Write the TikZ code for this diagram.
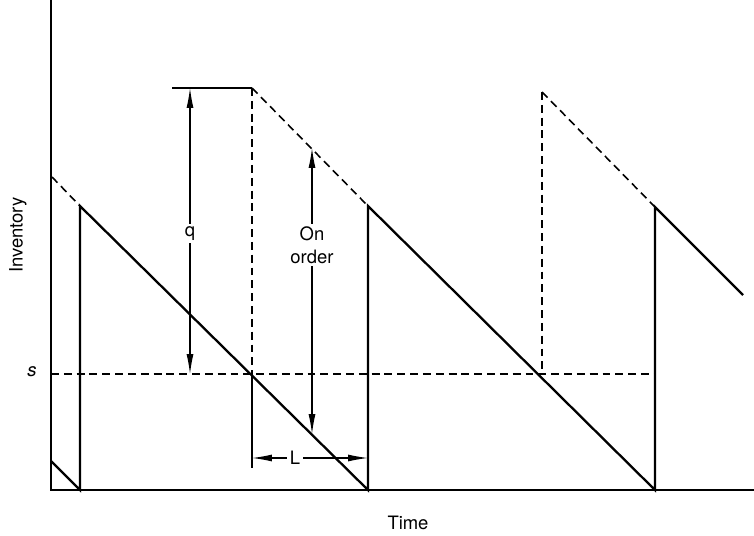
\documentclass[tikz,border=0pt]{standalone}
\usepackage{fontspec}
\setmainfont{TeX Gyre Heros}
\usetikzlibrary{arrows.meta}

\begin{document}
\begin{tikzpicture}[
    x=0.02cm, y=-0.02cm,
    font=\fontsize{10.5}{13}\selectfont,
    axisline/.style={line width=1pt},
    stock/.style={line width=1.3pt, line join=miter},
    projected/.style={line width=0.9pt, dash pattern=on 4.5pt off 2.8pt},
    dim/.style={line width=0.6pt, {Latex[length=4mm,width=1.4mm]}-{Latex[length=4mm,width=1.4mm]}},
    cutout/.style={fill=white, inner sep=1.5pt}
]
\useasboundingbox (0,0) rectangle (754,536);

% Axes
\coordinate (top) at (51,0);
\coordinate (origin) at (51,490);
\coordinate (tend) at (754,490);
\draw[axisline] (top) -- (origin) -- (tend);

% Inventory level
\coordinate (start) at (51,461);
\coordinate (a1) at (80,490);
\coordinate (k1) at (80,206);
\coordinate (a2) at (368,490);
\coordinate (k2) at (368,206);
\coordinate (a3) at (655,490);
\coordinate (k3) at (655,207);
\coordinate (stop) at (743,295);
\draw[stock] (start) -- (a1) -- (k1) -- (a2) -- (k2) -- (a3) -- (k3) -- (stop);

% Inventory position
\coordinate (p0) at (52,177);
\coordinate (o1) at (252,88);
\coordinate (o2) at (542,92);
\coordinate (r1) at (252,374);
\coordinate (r2) at (542,374);
\coordinate (s0) at (51,374);
\coordinate (s1) at (655,374);
\draw[projected] (p0) -- (k1);
\draw[projected] (o1) -- (k2);
\draw[projected] (o2) -- (k3);
\draw[projected] (o1) -- (r1);
\draw[projected] (o2) -- (r2);
\draw[projected] (s0) -- (s1);

% Dimensions
\coordinate (qleft) at (172,88);
\coordinate (ltick) at (252,468);
\draw[line width=0.9pt] (qleft) -- (o1);
\draw[line width=0.6pt] (r1) -- (ltick);
\draw[dim] (190,88) -- node[cutout, pos=0.51] (qlab) {q} (190,374);
\draw[dim] (312,148) -- node[cutout, pos=0.34, align=center] (oolab) {On\\order} (312,434);
\draw[dim] (252,458) -- node[cutout, pos=0.37] (llab) {L} (368,458);

% Labels
\node (slab) at (32,372) {\textit{s}};
\node[rotate=90] (ylab) at (18,235) {Inventory};
\node (xlab) at (408,523) {Time};

\end{tikzpicture}
\end{document}
